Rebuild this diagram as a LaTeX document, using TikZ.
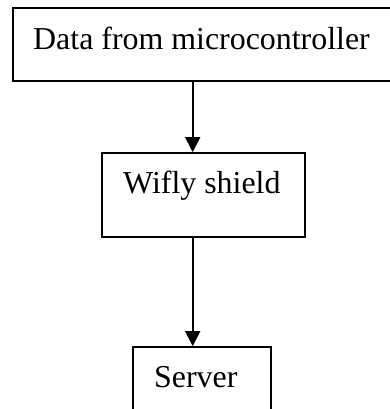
\documentclass[tikz,border=0pt]{standalone}
\usepackage{fontspec}
\setmainfont[Ligatures=NoCommon]{Liberation Serif}
\usetikzlibrary{arrows.meta}
\begin{document}
\begin{tikzpicture}[x=1pt,y=-1pt,
  box/.style={draw=black,line width=1.7pt,rectangle,inner sep=0pt},
  lbl/.style={anchor=base west,inner sep=0pt,font=\fontsize{31.9}{38}\selectfont},
  arr/.style={line width=1.7pt,-{Triangle[width=15pt,length=15pt]}}]
\useasboundingbox (0,0) rectangle (390,409);
\node[box,minimum width=387pt,minimum height=72.4pt] (top) at (206.5,44.5) {};
\node[box,minimum width=203pt,minimum height=84pt] (mid) at (203.5,195) {};
\node[box,minimum width=138pt,minimum height=80pt] (bot) at (202,387) {};
\node[lbl] (t1) at (33,50) {Data from microcontroller};
\node[lbl] (t2) at (123,193) {Wifly shield};
\node[lbl] (t3) at (154,387) {Server};
\coordinate (ax) at (192.7,0);
\draw[arr] (top.south -| ax) -- (mid.north -| ax);
\draw[arr] (mid.south -| ax) -- (bot.north -| ax);
\end{tikzpicture}
\end{document}
